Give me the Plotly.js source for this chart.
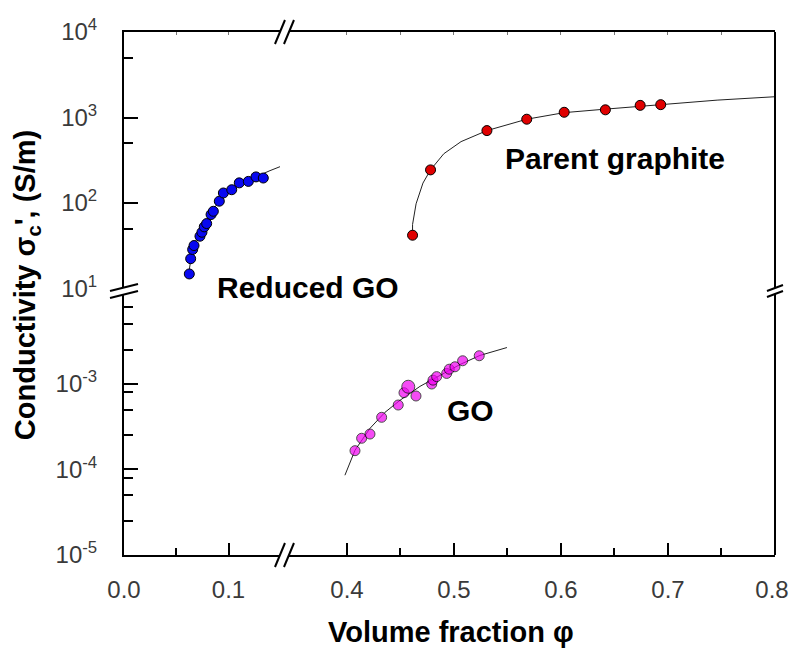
<!DOCTYPE html>
<html><head><meta charset="utf-8">
<script src="https://cdn.plot.ly/plotly-3.0.1.min.js"></script>
<style>html,body{margin:0;padding:0;background:#fff}</style>
</head><body>
<div id="chart" style="width:790px;height:649px"></div>
<script>
// ---- Reduced GO (blue) ----
const rgoPhi   = [0.0625,0.0638,0.0657,0.0670,0.0727,0.0746,0.0768,0.0791,0.0833,0.0855,0.0912,0.0951,0.1031,0.1103,0.1190,0.1263,0.1333];
const rgoSigma = [14.8,22.3,28.6,31.8,40.9,45.5,52.6,57.5,73.3,80,105,131,143,172,179,202,196];
const rgoFitPhi   = [0.0622,0.0651,0.0699,0.0775,0.0852,0.0938,0.1033,0.1158,0.1282,0.1397,0.1493];
const rgoFitSigma = [15.8,27.1,39.5,57.5,83.8,116,143,178,209,239,266];
// ---- Parent graphite (red) ----
const pgPhi   = [0.4613,0.4781,0.5308,0.5680,0.6030,0.6415,0.6740,0.6932];
const pgSigma = [42,244,703,955,1151,1230,1387,1413];
const pgFitPhi   = [0.4613,0.4613,0.4646,0.4710,0.4781,0.4905,0.5066,0.5308,0.5680,0.6030,0.6415,0.6932,0.7459,0.8000];
const pgFitSigma = [41.6,56.1,97.9,171,244,377,522,703,955,1140,1253,1426,1596,1750];
// ---- GO (magenta) ----
const goPhi   = [0.4075,0.4137,0.4215,0.4324,0.4479,0.4533,0.4573,0.4645,0.4792,0.4804,0.4838,0.4932,0.4956,0.5009,0.5081,0.5236];
const goSigma = [1.66e-4,2.32e-4,2.60e-4,4.08e-4,5.68e-4,7.91e-4,9.29e-4,7.24e-4,1.0e-3,1.11e-3,1.22e-3,1.33e-3,1.49e-3,1.59e-3,1.87e-3,2.14e-3];
const goFitPhi   = [0.3981,0.4075,0.4215,0.4355,0.4495,0.4682,0.4869,0.5056,0.5243,0.5495];
const goFitSigma = [8.57e-5,1.68e-4,3.03e-4,4.66e-4,6.44e-4,9.38e-4,1.26e-3,1.69e-3,2.16e-3,2.67e-3];
// ---- ticks ----
const xTickValsLeft  = [0, 0.1];
const xTickTextLeft  = ['0.0', '0.1'];
const xMinorLeft     = [0.05];
const xTickValsRight = [0.4, 0.5, 0.6, 0.7, 0.8];
const xTickTextRight = ['0.4', '0.5', '0.6', '0.7', ''];
const xTickValsEdge  = [0.8];
const xTickTextEdge  = ['0.8'];
const xMinorRight    = [0.45, 0.55, 0.65, 0.75];
const yTickValsLow  = [1e-5, 1e-4, 1e-3];
const yTickTextLow  = ['10<sup>-5</sup>', '10<sup>-4</sup>', '10<sup>-3</sup>'];
const yMinorLow     = [2.5e-5,5e-5,8e-5,2.5e-4,5e-4,8e-4,2.5e-3,5e-3,8e-3];
const yTickValsHigh = [1e1, 1e2, 1e3, 1e4];
const yTickTextHigh = ['10<sup>1</sup>', '10<sup>2</sup>', '10<sup>3</sup>', '10<sup>4</sup>'];
const yMinorHigh    = [50, 500, 5000];
const labels = {rgo: 'Reduced GO', pg: 'Parent graphite', go: 'GO',
  xTitle: 'Volume fraction φ', yTitle: "Conductivity σ<sub>c</sub>', (S/m)"};

const FONT = 'Liberation Sans, Arial, Helvetica, sans-serif';
const XB = 0.2488;   // x-break position (paper)
const YB = 0.5048;   // y-break position (paper)
const X2RANGE = [0.343, 0.8];

const lineStyle = {color: '#222', width: 1};
const mk = (c) => ({color: c, size: 10, line: {color: '#000', width: 1}});

const traces = [
  {x: rgoFitPhi, y: rgoFitSigma, xaxis: 'x', yaxis: 'y2', mode: 'lines', line: lineStyle, hoverinfo: 'skip'},
  {x: rgoPhi, y: rgoSigma, xaxis: 'x', yaxis: 'y2', mode: 'markers', marker: mk('#0808f0')},
  {x: pgFitPhi, y: pgFitSigma, xaxis: 'x2', yaxis: 'y2', mode: 'lines', line: lineStyle, hoverinfo: 'skip'},
  {x: pgPhi, y: pgSigma, xaxis: 'x2', yaxis: 'y2', mode: 'markers', marker: mk('#e00000')},
  {x: goFitPhi, y: goFitSigma, xaxis: 'x2', yaxis: 'y', mode: 'lines', line: lineStyle, hoverinfo: 'skip'},
  {x: goPhi, y: goSigma, xaxis: 'x2', yaxis: 'y', mode: 'markers',
   marker: Object.assign(mk('#f200f2'), {size: goPhi.map((p, i) => i === 6 ? 13 : 10)})},
  {x: [], y: [], xaxis: 'x', yaxis: 'y', mode: 'markers', showlegend: false},
  {x: [], y: [], xaxis: 'x3', yaxis: 'y2', mode: 'markers', showlegend: false},
  {x: [], y: [], xaxis: 'x4', yaxis: 'y2', mode: 'markers', showlegend: false},
  {x: [], y: [], xaxis: 'x5', yaxis: 'y', mode: 'markers', showlegend: false}
];

const tickFont = {family: FONT, size: 24, color: '#3a3a3a'};
const common = {showgrid: false, zeroline: false, showline: true, linecolor: '#000', linewidth: 2,
  ticks: 'inside', tickcolor: '#000', tickwidth: 2, fixedrange: true, tickfont: tickFont};
const minorX = (vals) => ({tickmode: 'array', tickvals: vals, ticks: 'inside', ticklen: 7, tickwidth: 2, tickcolor: '#000'});
const minorY = (vals) => ({tickmode: 'array', tickvals: vals, ticks: 'inside', ticklen: 9, tickwidth: 2, tickcolor: '#000'});
const topAxis = (over, range, vals) => ({overlaying: over, side: 'top', anchor: 'y2', range: range,
  showgrid: false, zeroline: false, showline: true, linecolor: '#000', linewidth: 2,
  ticks: 'inside', ticklen: 3, tickwidth: 1, tickcolor: '#777', tickmode: 'array', tickvals: vals,
  showticklabels: false, fixedrange: true});

function xBreak(ya) {
  const b = {type: 'path', xref: 'paper', yref: 'paper', xsizemode: 'pixel', ysizemode: 'pixel', xanchor: XB, yanchor: ya};
  return [
    Object.assign({}, b, {path: 'M -11,-12 L -1,12 L 8,12 L -2,-12 Z', fillcolor: '#fff', line: {width: 0}}),
    Object.assign({}, b, {path: 'M -11,-12 L -1,12', line: {color: '#000', width: 2}}),
    Object.assign({}, b, {path: 'M -2,-12 L 8,12', line: {color: '#000', width: 2}})
  ];
}
function yBreak(xa, w, h) {
  const b = {type: 'path', xref: 'paper', yref: 'paper', xsizemode: 'pixel', ysizemode: 'pixel', xanchor: xa, yanchor: YB};
  return [
    Object.assign({}, b, {path: `M ${-w},${-h} L ${w},0 L ${w},${h} L ${-w},0 Z`, fillcolor: '#fff', line: {width: 0}}),
    Object.assign({}, b, {path: `M ${-w},${-h} L ${w},0`, line: {color: '#000', width: 2}}),
    Object.assign({}, b, {path: `M ${-w},0 L ${w},${h}`, line: {color: '#000', width: 2}})
  ];
}

const annFont = {family: FONT, size: 30, color: '#000', weight: 'bold'};
const titleFont = {family: FONT, size: 29, color: '#000', weight: 'bold'};
const layout = {
  width: 790, height: 649, showlegend: false,
  paper_bgcolor: '#fff', plot_bgcolor: 'rgba(0,0,0,0)',
  margin: {l: 124, r: 15, t: 32, b: 94, pad: 0},
  xaxis: Object.assign({}, common, {domain: [0, XB], range: [0, 0.155], anchor: 'y',
    tickmode: 'array', tickvals: xTickValsLeft, ticktext: xTickTextLeft, ticklen: 12,
    ticklabelstandoff: 12, minor: minorX(xMinorLeft)}),
  xaxis2: Object.assign({}, common, {domain: [XB, 1], range: X2RANGE, anchor: 'y',
    tickmode: 'array', tickvals: xTickValsRight, ticktext: xTickTextRight, ticklen: 12,
    ticklabelstandoff: 12, minor: minorX(xMinorRight)}),
  // label of the last tick, nudged so it stays inside the picture
  xaxis5: {overlaying: 'x2', side: 'bottom', anchor: 'y', range: X2RANGE, showline: false, showgrid: false,
    zeroline: false, ticks: '', tickmode: 'array', tickvals: xTickValsEdge, ticktext: xTickTextEdge,
    tickfont: tickFont, ticklabelstandoff: 18, ticklabelshift: -3, ticklabeloverflow: 'allow', fixedrange: true},
  yaxis: Object.assign({}, common, {type: 'log', domain: [0, YB], range: [-5, -1.912], anchor: 'x',
    tickmode: 'array', tickvals: yTickValsLow, ticktext: yTickTextLow, ticklen: 14,
    ticklabelstandoff: 20, minor: minorY(yMinorLow)}),
  yaxis2: Object.assign({}, common, {type: 'log', domain: [YB, 1], range: [0.971, 4], anchor: 'x',
    tickmode: 'array', tickvals: yTickValsHigh, ticktext: yTickTextHigh, ticklen: 14,
    ticklabelstandoff: 20, minor: minorY(yMinorHigh)}),
  xaxis3: topAxis('x', [0, 0.155], [0.05, 0.1]),
  xaxis4: topAxis('x2', X2RANGE, [0.4, 0.45, 0.5, 0.55, 0.6, 0.65, 0.7, 0.75]),
  shapes: [
    {type: 'line', xref: 'paper', yref: 'paper', x0: 1, x1: 1, y0: 0, y1: 1, line: {color: '#000', width: 2}}
  ].concat(xBreak(0), xBreak(1), yBreak(0, 14, 7), yBreak(1, 8, 6)),
  annotations: [
    {text: labels.rgo, xref: 'paper', yref: 'paper', x: 0.1398, y: 0.5124, xanchor: 'left', yanchor: 'middle', showarrow: false, font: annFont},
    {text: labels.pg, xref: 'paper', yref: 'paper', x: 0.582, y: 0.759, xanchor: 'left', yanchor: 'middle', showarrow: false, font: annFont},
    {text: labels.go, xref: 'paper', yref: 'paper', x: 0.493, y: 0.2763, xanchor: 'left', yanchor: 'middle', showarrow: false, font: annFont},
    {text: labels.xTitle, xref: 'paper', yref: 'paper', x: 0.502, y: -0.147, xanchor: 'center', yanchor: 'middle', showarrow: false, font: titleFont},
    {text: labels.yTitle, xref: 'paper', yref: 'paper', x: -0.149, y: 0.516, xanchor: 'center', yanchor: 'middle', textangle: -90, showarrow: false, font: titleFont}
  ]
};

Plotly.newPlot('chart', traces, layout, {staticPlot: true, displayModeBar: false});
</script>
</body></html>
